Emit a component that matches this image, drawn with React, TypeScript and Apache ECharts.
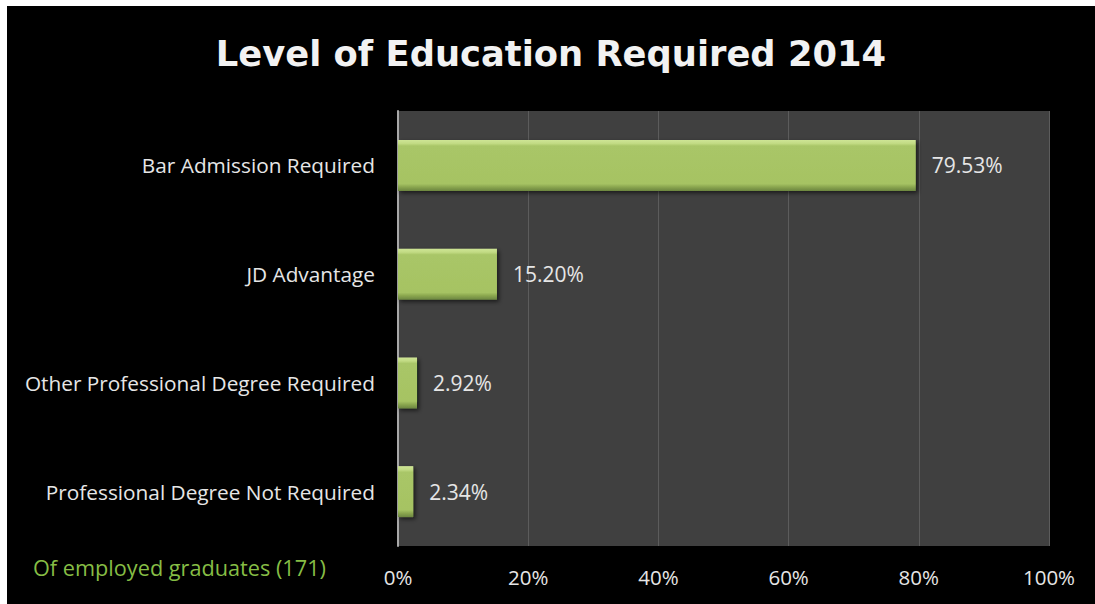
import React, { useEffect, useRef } from "react";
import * as echarts from "echarts";

const categories = [
  "Bar Admission Required",
  "JD Advantage",
  "Other Professional Degree Required",
  "Professional Degree Not Required",
];
const values = [79.53, 15.2, 2.92, 2.34];
const xTicks = [0, 20, 40, 60, 80, 100];
const titleText = "Level of Education Required 2014";
const noteText = "Of employed graduates (171)";

export default function App() {
  const ref = useRef<HTMLDivElement>(null);
  useEffect(() => {
    if (!ref.current) return;
    const chart = echarts.init(ref.current, undefined, { renderer: "svg" });
    const font = "'Open Sans', sans-serif";
    chart.setOption({
      animation: false,
      backgroundColor: "#000000",
      title: {
        text: titleText,
        left: "center",
        top: 25,
        textStyle: {
          color: "#f2f2f2",
          fontFamily: "'DejaVu Sans', sans-serif",
          fontWeight: "bold",
          fontSize: 35.3,
        },
      },
      grid: {
        left: 391,
        right: 46,
        top: 105,
        bottom: 58,
        show: true,
        backgroundColor: "#404040",
        borderWidth: 0,
      },
      xAxis: {
        type: "value",
        min: xTicks[0],
        max: xTicks[xTicks.length - 1],
        interval: 20,
        axisLine: { show: false },
        axisTick: { show: false },
        splitLine: { lineStyle: { color: "#5c5c5c", width: 1 } },
        axisLabel: {
          formatter: "{value}%",
          color: "#e6e6e6",
          fontFamily: font,
          fontSize: 20.5,
          margin: 20,
        },
      },
      yAxis: {
        type: "category",
        data: categories,
        inverse: true,
        axisLine: { show: true, lineStyle: { color: "#a8a8a8", width: 2 } },
        axisTick: { show: false },
        axisLabel: {
          color: "#e6e6e6",
          fontFamily: font,
          fontSize: 20.8,
          margin: 23,
        },
      },
      graphic: [
        {
          type: "text",
          left: 26,
          top: 550,
          style: {
            text: noteText,
            fill: "#86bd45",
            font: `21.7px ${font}`,
          },
        },
      ],
      series: [
        {
          type: "bar",
          data: values,
          barWidth: 51,
          itemStyle: {
            color: new echarts.graphic.LinearGradient(0, 0, 0, 1, [
              { offset: 0, color: "#cfe596" },
              { offset: 0.07, color: "#c2db84" },
              { offset: 0.12, color: "#a9c667" },
              { offset: 0.86, color: "#a6c363" },
              { offset: 0.92, color: "#8ca850" },
              { offset: 1, color: "#6c8640" },
            ]),
            shadowColor: "rgba(0,0,0,0.6)",
            shadowBlur: 4,
            shadowOffsetX: 2,
            shadowOffsetY: 2,
          },
          label: {
            show: true,
            position: "right",
            distance: 16,
            color: "#e6e6e6",
            fontFamily: font,
            fontSize: 21,
            formatter: (p: any) => p.value.toFixed(2) + "%",
          },
        },
      ],
    });
    return () => chart.dispose();
  }, []);
  return (
    <div
      ref={ref}
      style={{ position: "absolute", left: 7, top: 6, width: 1088, height: 598 }}
    />
  );
}
